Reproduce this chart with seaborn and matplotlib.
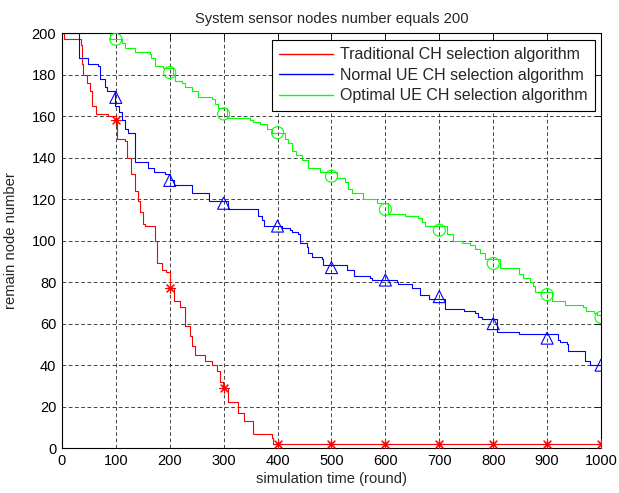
import matplotlib
matplotlib.use("Agg")
import matplotlib.pyplot as plt
from matplotlib.lines import Line2D
import seaborn as sns
import pandas as pd

# ---- data ----
red_x = [0, 3, 35, 37, 40, 46, 52, 55, 64, 86, 100, 102, 117, 120, 129, 136, 142, 145, 151, 154,
         172, 176, 185, 194, 200, 207, 219, 228, 238, 241, 247, 265, 278, 287, 293, 299, 309, 327,
         337, 355, 389, 392, 1000]
red_y = [200, 197, 194, 185, 180, 176, 172, 165, 161, 160, 158, 149, 148, 140, 132, 124, 119, 114,
         108, 107, 100, 89, 86, 85, 77, 71, 68, 59, 54, 49, 45, 42, 40, 37, 32, 29, 22, 17, 13, 7,
         5, 2, 2]

blue_x = [0, 32, 49, 67, 71, 80, 83, 98, 105, 111, 117, 123, 135, 136, 157, 160, 170, 191, 200, 207,
          241, 272, 309, 364, 371, 374, 408, 423, 426, 438, 442, 454, 457, 463, 482, 485, 528, 541,
          571, 575, 621, 624, 649, 664, 680, 711, 745, 766, 772, 779, 807, 847, 921, 924, 936, 939,
          970, 980, 1000]
blue_y = [200, 188, 185, 184, 178, 174, 172, 165, 162, 158, 154, 152, 148, 138, 138, 135, 133, 132,
          129, 127, 123, 119, 115, 112, 110, 107, 106, 105, 104, 103, 99, 97, 94, 92, 91, 88, 86, 83,
          82, 81, 80, 79, 77, 74, 72, 67, 66, 65, 63, 62, 56, 55, 52, 51, 50, 47, 42, 40, 40]

green_x = [0, 89, 111, 117, 129, 135, 163, 166, 172, 188, 206, 210, 222, 228, 241, 253, 278, 284, 290,
           306, 348, 355, 367, 380, 389, 414, 420, 426, 435, 445, 457, 479, 510, 525, 531, 538, 559,
           584, 605, 636, 661, 667, 674, 714, 726, 742, 757, 766, 776, 785, 813, 847, 856, 868, 874,
           878, 909, 933, 967, 973, 986, 992, 1000]
green_y = [200, 197, 195, 193, 193, 191, 190, 188, 184, 183, 180, 177, 176, 174, 172, 169, 168, 166,
           164, 159, 158, 157, 156, 154, 152, 149, 147, 143, 141, 139, 135, 133, 130, 128, 125, 123,
           120, 118, 113, 112, 111, 109, 107, 103, 100, 99, 98, 96, 94, 91, 87, 84, 82, 80, 78, 75,
           71, 69, 68, 66, 65, 64, 63]

marker_x = [100, 200, 300, 400, 500, 600, 700, 800, 900, 1000]
red_marks = [158, 77, 29, 2, 2, 2, 2, 2, 2, 2]
blue_marks = [169, 129, 118, 107, 87, 81, 73, 60, 53, 40]
green_marks = [197, 181, 161, 152, 131, 115, 105, 89, 74, 63]

labels = ["Traditional CH selection algorithm",
          "Normal UE CH selection algorithm",
          "Optimal UE CH selection algorithm"]
colors = ["#ff0000", "#0000ff", "#00ff00"]
markers = [(8, 2, 0), "^", "o"]

xticks = list(range(0, 1001, 100))
yticks = list(range(0, 201, 20))

# ---- plotting ----
sns.set_style("white")
plt.rcParams["font.family"] = ["Liberation Sans", "DejaVu Sans"]
plt.rcParams["font.size"] = 10.5

fig = plt.figure(figsize=(6.19, 4.93), dpi=100)
ax = fig.add_axes([0.100, 0.091, 0.871, 0.842])

series = [(red_x, red_y, red_marks), (blue_x, blue_y, blue_marks), (green_x, green_y, green_marks)]
for (xs, ys, ms), col, mk in zip(series, colors, markers):
    df = pd.DataFrame({"x": xs, "y": ys})
    sns.lineplot(data=df, x="x", y="y", ax=ax, color=col, linewidth=0.8,
                 drawstyle="steps-post", sort=False, estimator=None, legend=False)
    dm = pd.DataFrame({"x": marker_x, "y": ms})
    if isinstance(mk, tuple):
        sns.scatterplot(data=dm, x="x", y="y", ax=ax, marker=mk, s=50, color=col,
                        edgecolor=col, linewidth=0.8, legend=False, zorder=5)
    else:
        sns.scatterplot(data=dm, x="x", y="y", ax=ax, marker=mk, s=75, facecolor="none",
                        edgecolor=col, linewidth=0.8, legend=False, zorder=5)

ax.set_xlim(0, 1000)
ax.set_ylim(0, 200)
ax.set_xticks(xticks)
ax.set_yticks(yticks)
ax.grid(True, color="0.15", linestyle=(0, (4.5, 3)), linewidth=0.6)
for s in ax.spines.values():
    s.set_visible(True)
    s.set_color("black")
    s.set_linewidth(0.8)
ax.tick_params(direction="in", length=4, width=0.6, top=True, right=True,
               labelsize=10.5, colors="black", pad=4)
ax.set_title("System sensor nodes number equals 200", fontsize=10.6, pad=7)
ax.set_xlabel("simulation time (round)", fontsize=10.6, labelpad=3)
ax.set_ylabel("remain node number", fontsize=10.6, labelpad=10)

handles = [Line2D([0], [0], color=c, linewidth=1.0) for c in colors]
leg = ax.legend(handles, labels, loc="upper right", fontsize=11.5, frameon=True,
                fancybox=False, edgecolor="black", framealpha=1, handlelength=3.4,
                borderpad=0.45, labelspacing=0.35, handletextpad=0.45, borderaxespad=0.0,
                bbox_to_anchor=(0.989, 0.983))
leg.get_frame().set_linewidth(0.8)

fig.savefig("out.png", dpi=100)
